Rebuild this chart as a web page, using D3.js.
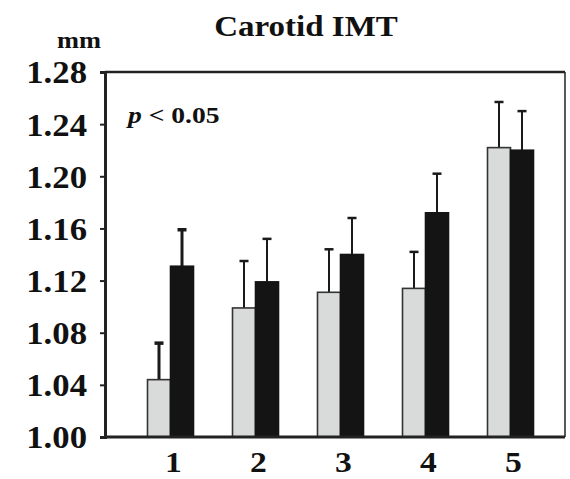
<!DOCTYPE html>
<html>
<head>
<meta charset="utf-8">
<script src="https://cdn.jsdelivr.net/npm/d3@7/dist/d3.min.js"></script>
<style>
  html, body { margin: 0; padding: 0; background: #fff; }
  svg { display: block; }
  text { font-family: "Liberation Serif", "Times New Roman", serif; font-weight: bold; fill: #111; }
</style>
</head>
<body>
<div id="chart"></div>
<script>
const categories = ["1", "2", "3", "4", "5"];
const seriesNames = ["grey", "black"];
const greyValues = [1.044, 1.099, 1.111, 1.114, 1.222];
const greyErrors = [1.072, 1.135, 1.144, 1.142, 1.257];
const blackValues = [1.131, 1.119, 1.140, 1.172, 1.220];
const blackErrors = [1.159, 1.152, 1.168, 1.202, 1.250];
const yTicks = [1.00, 1.04, 1.08, 1.12, 1.16, 1.20, 1.24, 1.28];

const W = 570, H = 479;
const frame = { left: 105, right: 565, top: 72, bottom: 437 };

const svg = d3.select("#chart").append("svg").attr("width", W).attr("height", H);

const y = d3.scaleLinear().domain([1.00, 1.28]).range([frame.bottom, frame.top]);
const x = d3.scaleBand().domain(categories).range([128, 553]).padding(0);
const sub = d3.scaleBand().domain(seriesNames).range([-23, 23]).padding(0);

const rows = categories.map((c, i) => ({
  c,
  bars: [
    { s: "grey", v: greyValues[i], e: greyErrors[i] },
    { s: "black", v: blackValues[i], e: blackErrors[i] }
  ]
}));

const cx = c => x(c) + x.bandwidth() / 2;

// bars
const g = svg.append("g");
rows.forEach(r => {
  r.bars.forEach(b => {
    const x0 = cx(r.c) + sub(b.s);
    const bw = sub.bandwidth();
    const mid = x0 + bw / 2;
    g.append("line").attr("x1", mid).attr("x2", mid)
      .attr("y1", y(b.v)).attr("y2", y(b.e))
      .attr("stroke", "#1a1a1a").attr("stroke-width", r.c === "1" ? 3 : 2);
    g.append("line").attr("x1", mid - 4.5).attr("x2", mid + 4.5)
      .attr("y1", y(b.e)).attr("y2", y(b.e))
      .attr("stroke", "#1a1a1a").attr("stroke-width", r.c === "1" ? 3.5 : 2.5);
    g.append("rect")
      .attr("x", x0).attr("width", bw)
      .attr("y", y(b.v)).attr("height", y(1.0) - y(b.v))
      .attr("fill", b.s === "grey" ? "#d9dada" : "#141414")
      .attr("stroke", b.s === "grey" ? "#333" : "#141414")
      .attr("stroke-width", 1.6);
  });
});

// frame
svg.append("line").attr("x1", frame.left).attr("x2", frame.right).attr("y1", frame.top).attr("y2", frame.top)
  .attr("stroke", "#222").attr("stroke-width", 2.5);
svg.append("line").attr("x1", frame.right).attr("x2", frame.right).attr("y1", frame.top).attr("y2", frame.bottom)
  .attr("stroke", "#222").attr("stroke-width", 1.5);
svg.append("line").attr("x1", frame.left).attr("x2", frame.right).attr("y1", frame.bottom).attr("y2", frame.bottom)
  .attr("stroke", "#222").attr("stroke-width", 3);

// y axis
const yAxis = d3.axisLeft(y).tickValues(yTicks).tickFormat(d3.format(".2f")).tickSize(5).tickPadding(0);
const ya = svg.append("g").attr("transform", `translate(${frame.left},0)`).call(yAxis);
ya.select(".domain").attr("stroke", "#222").attr("stroke-width", 3);
ya.selectAll(".tick line").attr("stroke", "#222").attr("stroke-width", 2);
ya.selectAll(".tick text").remove();
ya.selectAll(".tick").append("text")
  .attr("x", 0).attr("y", 0)
  .attr("text-anchor", "end")
  .attr("dy", "0.35em")
  .attr("font-size", 31)
  .attr("fill", "#111")
  .attr("transform", "translate(-18,0) scale(1.12,1)")
  .text(d => d3.format(".2f")(d));

// x labels
const xAxis = d3.axisBottom(x).tickSize(0).tickPadding(0);
const xa = svg.append("g").attr("transform", `translate(0,${frame.bottom})`).call(xAxis);
xa.select(".domain").remove();
xa.selectAll(".tick text").remove();
xa.selectAll(".tick").append("text")
  .attr("text-anchor", "middle")
  .attr("font-size", 30)
  .attr("fill", "#111")
  .attr("transform", "translate(3,35) scale(1.12,1)")
  .text(d => d);

// title
svg.append("text").attr("text-anchor", "middle")
  .attr("font-size", 30)
  .attr("transform", "translate(306,36) scale(1.1,1)")
  .text("Carotid IMT");

// unit
svg.append("text").attr("text-anchor", "middle")
  .attr("font-size", 24)
  .attr("transform", "translate(79,48) scale(1.1,1)")
  .text("mm");

// p-value annotation
const pt = svg.append("text").attr("font-size", 23)
  .attr("transform", "translate(128,123) scale(1.2,1)");
pt.append("tspan").attr("font-style", "italic").text("p");
pt.append("tspan").text(" < 0.05");
</script>
</body>
</html>
